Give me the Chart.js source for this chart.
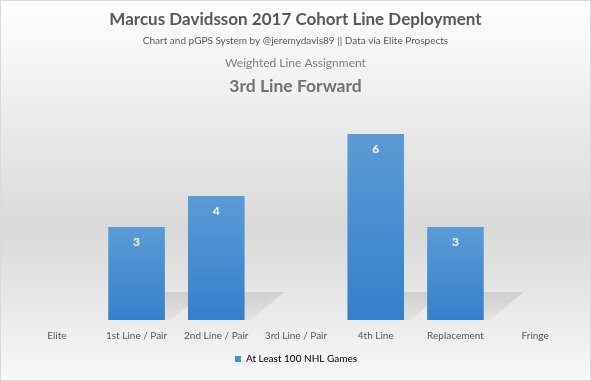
<!DOCTYPE html>
<html>
<head>
<meta charset="utf-8">
<script src="https://cdn.jsdelivr.net/npm/chart.js@4/dist/chart.umd.min.js"></script>
<style>
	html, body { margin: 0; padding: 0; background: #fff; }
	#wrap { width: 591px; height: 381px; }
</style>
</head>
<body>
<div id="wrap"><canvas id="myChart" width="591" height="381"></canvas></div>
<script>
var categories = ["Elite", "1st Line / Pair", "2nd Line / Pair", "3rd Line / Pair", "4th Line", "Replacement", "Fringe"];
var games100 = [null, 3, 4, null, 6, 3, null];
var seriesName = "At Least 100 NHL Games";
var headings = [
	{ text: "Marcus Davidsson 2017 Cohort Line Deployment", font: "bold 17px Lato", color: "#595959", y: 20 },
	{ text: "Chart and pGPS System by @jeremydavis89 || Data via Elite Prospects", font: "10px Lato", color: "#595959", y: 41 },
	{ text: "Weighted Line Assignment", font: "12px Lato", color: "#808080", y: 63 },
	{ text: "3rd Line Forward", font: "bold 17.5px Lato", color: "#747070", y: 86 },
];

var fontFamily = "Lato";

function barGradient(context) {
	var chart = context.chart;
	if (!chart.chartArea || context.raw == null) return "#4a8fd3";
	var y = chart.scales.y;
	var top = y.getPixelForValue(context.raw);
	var bottom = y.getPixelForValue(0);
	var g = chart.ctx.createLinearGradient(0, top, 0, bottom);
	g.addColorStop(0, "#5b9bd5");
	g.addColorStop(1, "#3580cc");
	return g;
}

var backgroundPlugin = {
	id: "bg",
	beforeDraw: function (chart) {
		var ctx = chart.ctx;
		var g = ctx.createLinearGradient(0, 0, 0, chart.height);
		g.addColorStop(0, "#ffffff");
		g.addColorStop(0.6, "#d9d9d9");
		g.addColorStop(1, "#f8f8f8");
		ctx.save();
		ctx.fillStyle = g;
		ctx.fillRect(0, 0, chart.width, chart.height);
		ctx.strokeStyle = "#d9d9d9";
		ctx.lineWidth = 1;
		ctx.strokeRect(0.5, 0.5, chart.width - 1, chart.height - 1);
		ctx.restore();
	},
	beforeDatasetsDraw: function (chart) {
		// soft shadow behind the bars
		var ctx = chart.ctx;
		var meta = chart.getDatasetMeta(0);
		ctx.save();
		meta.data.forEach(function (bar, i) {
			if (games100[i] == null) return;
			var p = bar.getProps(["x", "base", "width"], true);
			var l = p.x - p.width / 2;
			var r = p.x + p.width / 2;
			var g = ctx.createLinearGradient(0, p.base - 30, 0, p.base);
			g.addColorStop(0, "rgba(150,150,150,0.3)");
			g.addColorStop(1, "rgba(150,150,150,0.1)");
			ctx.fillStyle = g;
			ctx.beginPath();
			ctx.moveTo(l, p.base);
			ctx.lineTo(r + 6, p.base);
			ctx.lineTo(r + 40, p.base - 28);
			ctx.lineTo(l + 32, p.base - 28);
			ctx.closePath();
			ctx.fill();
		});
		ctx.restore();
	},
	afterDraw: function (chart) {
		var ctx = chart.ctx;
		ctx.save();
		ctx.textAlign = "center";
		ctx.textBaseline = "middle";
		headings.forEach(function (h) {
			ctx.font = h.font;
			ctx.fillStyle = h.color;
			ctx.fillText(h.text, chart.width / 2, h.y);
		});
		// value labels inside the bars
		var meta = chart.getDatasetMeta(0);
		ctx.font = "bold 12px " + fontFamily;
		ctx.fillStyle = "#ffffff";
		meta.data.forEach(function (bar, i) {
			if (games100[i] == null) return;
			ctx.fillText(String(games100[i]), bar.x, bar.y + 15);
		});
		ctx.restore();
	},
};

var ctx = document.getElementById("myChart").getContext("2d");
var myChart = new Chart(ctx, {
	type: "bar",
	data: {
		labels: categories,
		datasets: [
			{
				label: seriesName,
				data: games100,
				backgroundColor: barGradient,
				borderWidth: 0,
				categoryPercentage: 1,
				barPercentage: 0.71,
			},
		],
	},
	plugins: [backgroundPlugin],
	options: {
		responsive: false,
		animation: false,
		layout: {
			padding: { top: 103, left: 17, right: 16, bottom: 7 },
		},
		scales: {
			x: {
				grid: { display: false, drawTicks: false },
				border: { display: false },
				ticks: {
					color: "#595959",
					font: { family: fontFamily, size: 10 },
					padding: 10,
					maxRotation: 0,
					autoSkip: false,
				},
			},
			y: {
				display: false,
				min: 0,
				max: 7,
			},
		},
		plugins: {
			legend: {
				position: "bottom",
				labels: {
					color: "#595959",
					font: { family: fontFamily, size: 10 },
					boxWidth: 6,
					boxHeight: 6,
					padding: 2,
					generateLabels: function (chart) {
						return [{ text: seriesName, fillStyle: "#4a8fd3", strokeStyle: "#4a8fd3", lineWidth: 0, datasetIndex: 0 }];
					},
				},
			},
			tooltip: { enabled: false },
		},
	},
});
</script>
</body>
</html>
